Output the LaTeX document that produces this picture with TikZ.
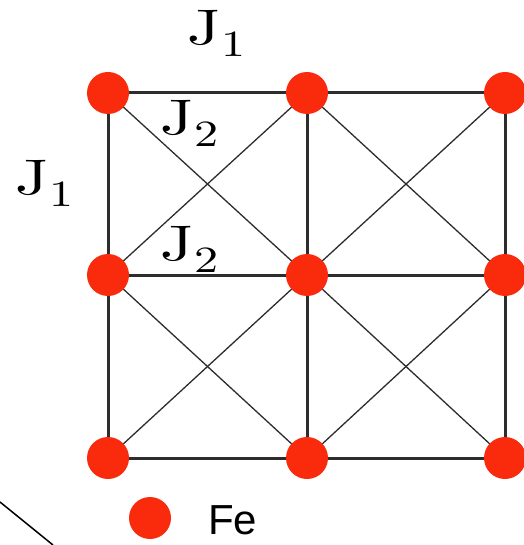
\documentclass[tikz,border=0pt]{standalone}
\usepackage{fontspec}
\newfontfamily\legendfont{Liberation Sans}
\newfontfamily\jfont{lmroman10-regular.otf}
\definecolor{fered}{RGB}{250,42,12}
\definecolor{bondgray}{RGB}{45,45,45}
\newcommand{\jsub}[1]{\scalebox{1.3}[1]{J\kern1pt\raisebox{-0.24em}{\fontsize{37}{40}\selectfont #1}}}
\tikzset{
  atom/.style={circle, fill=fered, draw=none, minimum size=42pt, inner sep=0pt},
  jbond/.style={draw=bondgray, line width=3pt},
  dbond/.style={draw=bondgray, line width=1.3pt},
  jlabel/.style={anchor=base west, inner sep=0pt, font=\jfont\fontsize{50}{56}\selectfont},
}
\begin{document}
\begin{tikzpicture}[x=1pt, y=-1pt]
\useasboundingbox (0,0) rectangle (523,545);
\fill[white] (0,0) rectangle (523,545);
% lattice points
\foreach \c/\xx in {0/108, 1/307, 2/505}{
  \foreach \r/\yy in {0/93, 1/275, 2/458}{
    \coordinate (p\c\r) at (\xx,\yy);
  }
}
% diagonals
\foreach \c/\cn in {0/1, 1/2}{
  \foreach \r/\rn in {0/1, 1/2}{
    \draw[dbond] (p\c\r) -- (p\cn\rn);
    \draw[dbond] (p\cn\r) -- (p\c\rn);
  }
}
% nearest-neighbour bonds
\foreach \r in {0,1,2}{
  \draw[jbond] (p0\r) -- (p1\r) -- (p2\r);
}
\foreach \c in {0,1,2}{
  \draw[jbond] (p\c0) -- (p\c1) -- (p\c2);
}
% atoms
\foreach \c in {0,1,2}{
  \foreach \r in {0,1,2}{
    \node[atom] (a\c\r) at (p\c\r) {};
  }
}
% labels
\node[jlabel] (j1top) at (187,45) {\jsub{1}};
\node[jlabel] (j1left) at (15,195) {\jsub{1}};
\node[jlabel] (j2a) at (160,135) {\jsub{2}};
\node[jlabel] (j2b) at (160,260) {\jsub{2}};
% legend
\node[atom] (legatom) at (150,518) {};
\node[anchor=west, inner sep=0pt, font=\legendfont\fontsize{42}{46}\selectfont] (legtext) at (208,520) {Fe};
% stray line at bottom left
\coordinate (s1) at (0,502);
\coordinate (s2) at (53,545);
\draw[black, line width=1.5pt] (s1) -- (s2);
\end{tikzpicture}
\end{document}
